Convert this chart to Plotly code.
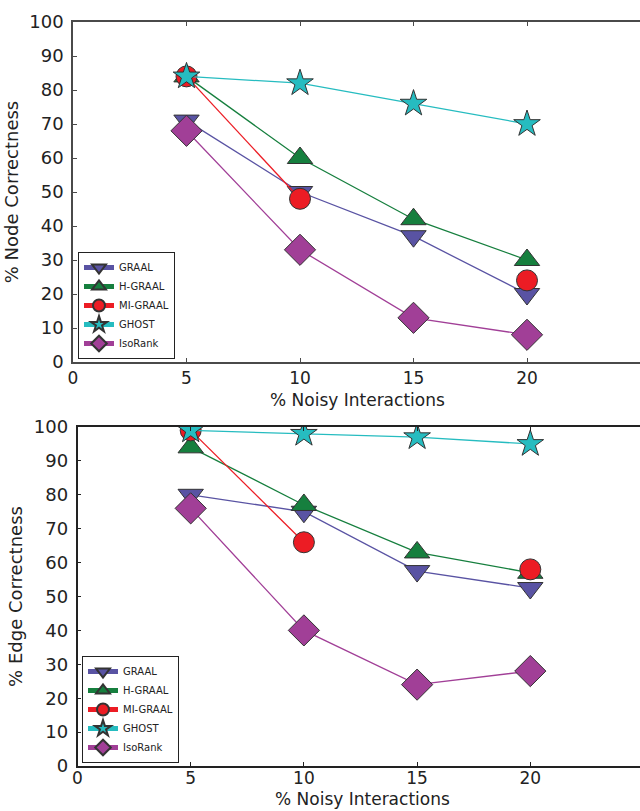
import plotly.graph_objects as go

# ---- data ----
x_noise = [5, 10, 15, 20]
methods = ["GRAAL", "H-GRAAL", "MI-GRAAL", "GHOST", "IsoRank"]

node_graal = [71, 50, 37, 20]
node_hgraal = [84, 60, 42, 30]
node_migraal = [84, 48, None, 24]
node_ghost = [84, 82, 76, 70]
node_isorank = [68, 33, 13, 8]

edge_graal = [80, 75, 57.5, 52.5]
edge_hgraal = [94, 77, 63, 57]
edge_migraal = [99, 66, None, 58]
edge_ghost = [99, 98, 97, 95]
edge_isorank = [76, 40, 24, 28]

x_ticks = [0, 5, 10, 15, 20]
y_ticks = [0, 10, 20, 30, 40, 50, 60, 70, 80, 90, 100]
x_title = "% Noisy Interactions"
y_titles = ["% Node Correctness", "% Edge Correctness"]

# ---- styles ----
colors = ["#5953a3", "#167f3e", "#ec1c24", "#26bcc0", "#a13f97"]
symbols = ["triangle-down", "triangle-up", "circle", "star", "diamond"]
sizes = [22, 22, 21, 20, 24]

W, H = 640, 811
fig = go.Figure()

node_series = [node_graal, node_hgraal, node_migraal, node_ghost, node_isorank]
edge_series = [edge_graal, edge_hgraal, edge_migraal, edge_ghost, edge_isorank]

for i, name in enumerate(methods):
    fig.add_trace(go.Scatter(
        x=x_noise, y=node_series[i], name=name, mode="lines+markers",
        line=dict(color=colors[i], width=1.3),
        marker=dict(symbol=symbols[i], size=sizes[i], color=colors[i],
                    line=dict(color="#333333", width=1)),
        xaxis="x", yaxis="y", legend="legend", connectgaps=False))
for i, name in enumerate(methods):
    fig.add_trace(go.Scatter(
        x=x_noise, y=edge_series[i], name=name, mode="lines+markers",
        line=dict(color=colors[i], width=1.3),
        marker=dict(symbol=symbols[i], size=sizes[i], color=colors[i],
                    line=dict(color="#333333", width=1)),
        xaxis="x2", yaxis="y2", legend="legend2", connectgaps=False))

font_main = "DejaVu Sans"
tickfont = dict(family=font_main, size=18, color="#222222")
xtickfont = dict(family=font_main, size=17, color="#222222")
titlefont = dict(family=font_main, size=18, color="#222222")
xtitlefont = dict(family=font_main, size=17, color="#222222")

def xax(domain, rng, color, anchor, standoff):
    return dict(domain=domain, range=rng, anchor=anchor, automargin=False,
                tickvals=x_ticks, ticks="inside", ticklen=4, tickcolor=color,
                showline=True, linecolor=color, linewidth=1.5, mirror="ticks",
                showgrid=False, zeroline=False, tickfont=xtickfont,
                ticklabelstandoff=standoff)

def yax(domain, color, anchor, title):
    return dict(domain=domain, range=[0, 100], anchor=anchor, automargin=False,
                tickvals=y_ticks, ticks="inside", ticklen=4, tickcolor=color,
                showline=True, linecolor=color, linewidth=1.5, mirror=False,
                showgrid=False, zeroline=False, tickfont=tickfont,
                ticklabelstandoff=4,
                title=dict(text=title, font=titlefont, standoff=6))

legend_style = dict(font=dict(family=font_main, size=10, color="#222222"),
                    bgcolor="white", bordercolor="#222222", borderwidth=1,
                    xanchor="left", yanchor="bottom", itemsizing="constant",
                    tracegroupgap=0)

fig.update_layout(
    width=W, height=H,
    margin=dict(l=0, r=0, t=0, b=0, autoexpand=False),
    paper_bgcolor="white", plot_bgcolor="white",
    showlegend=True,
    xaxis=xax([73 / W, 1], [0, 25 * (W - 73) / (640.5 - 73)], "#4a4a4a", "y", 0),
    yaxis=yax([1 - 362 / H, 1 - 22 / H], "#4a4a4a", "x", y_titles[0]),
    xaxis2=xax([77.5 / W, 1], [0, 5 * (W - 77.5) / 113.2], "#222222", "y2", -4),
    yaxis2=yax([1 - 766 / H, 1 - 427 / H], "#222222", "x2", y_titles[1]),
    legend=dict(x=78 / W, y=1 - 359 / H, **legend_style),
    legend2=dict(x=82 / W, y=1 - 763 / H, **legend_style),
    annotations=[
        dict(text=x_title, xref="paper", yref="paper", x=357 / W, y=1 - 400 / H,
             xanchor="center", yanchor="middle", showarrow=False, font=xtitlefont),
        dict(text=x_title, xref="paper", yref="paper", x=362 / W, y=0,
             xanchor="center", yanchor="bottom", showarrow=False, font=xtitlefont),
    ],
)

fig.write_html("out.html", config={"displayModeBar": False},
               post_script="document.body.style.margin='0';")
